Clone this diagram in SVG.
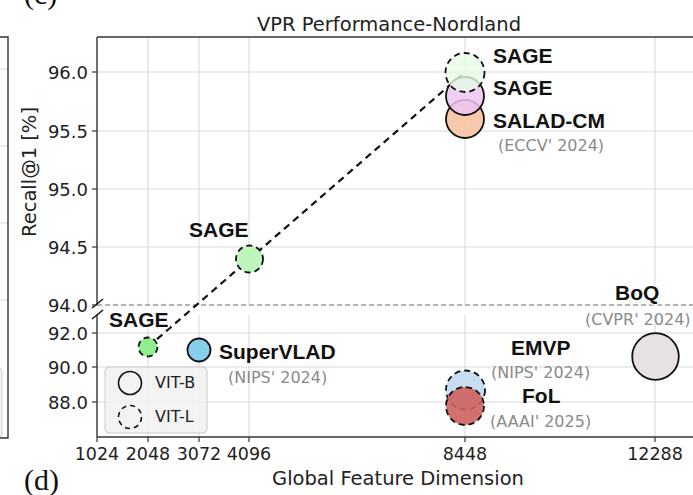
<svg xmlns="http://www.w3.org/2000/svg" width="693" height="495" viewBox="0 0 693 495">
<style>
.grid{stroke:#d9d9d9;stroke-width:1.1;fill:none}
.spine{stroke:#333;stroke-width:1.4;fill:none}
.tick{stroke:#333;stroke-width:1.2}
.tl{font-family:"DejaVu Sans",sans-serif;font-size:18px;fill:#222}
.xl{font-family:"DejaVu Sans",sans-serif;font-size:17.5px;fill:#222;text-anchor:middle}
.ax{font-family:"DejaVu Sans",sans-serif;font-size:19.5px;fill:#222}
.lab{font-family:"Liberation Sans",Arial,sans-serif;font-weight:bold;font-size:21px;fill:#111;stroke:#ffffff;stroke-width:3;stroke-opacity:0.7;paint-order:stroke;stroke-linejoin:round}
.sub{font-family:"DejaVu Sans",sans-serif;font-size:16px;fill:#8a8a8a}
.pt{stroke:#111;stroke-width:1.8}
.dash{stroke-dasharray:6 4}
.panel{font-family:"Liberation Serif",serif;font-size:30px;fill:#111}
</style>
<rect width="693" height="495" fill="#ffffff"/>

<!-- partial left panel -->
<g id="left-panel">
<line class="grid" x1="0" y1="69" x2="8" y2="69"/>
<line class="grid" x1="0" y1="146" x2="8" y2="146"/>
<line class="grid" x1="0" y1="223" x2="8" y2="223"/>
<line class="grid" x1="0" y1="300" x2="8" y2="300"/>
<rect x="-20" y="368" width="22" height="69" rx="3" fill="#f2f2f2" stroke="#cfcfcf" stroke-width="1"/>
<polyline class="spine" points="0,37 8,37 8,438 0,438"/>
</g>
<text class="panel" x="24" y="4">(c)</text>
<text class="panel" x="24" y="490">(d)</text>

<!-- grid -->
<g id="grid">
<line class="grid" x1="97" y1="72" x2="693" y2="72"/>
<line class="grid" x1="97" y1="131" x2="693" y2="131"/>
<line class="grid" x1="97" y1="189" x2="693" y2="189"/>
<line class="grid" x1="97" y1="247" x2="693" y2="247"/>
<line class="grid" x1="97" y1="333" x2="693" y2="333"/>
<line class="grid" x1="97" y1="367" x2="693" y2="367"/>
<line class="grid" x1="97" y1="402" x2="693" y2="402"/>
<line class="grid" x1="148" y1="37" x2="148" y2="305"/>
<line class="grid" x1="199" y1="37" x2="199" y2="305"/>
<line class="grid" x1="249" y1="37" x2="249" y2="305"/>
<line class="grid" x1="465" y1="37" x2="465" y2="305"/>
<line class="grid" x1="655" y1="37" x2="655" y2="305"/>
<line class="grid" x1="148" y1="315" x2="148" y2="437"/>
<line class="grid" x1="199" y1="315" x2="199" y2="437"/>
<line class="grid" x1="249" y1="315" x2="249" y2="437"/>
<line class="grid" x1="465" y1="315" x2="465" y2="437"/>
<line class="grid" x1="655" y1="315" x2="655" y2="437"/>
<line x1="97" y1="305" x2="693" y2="305" stroke="#9a9a9a" stroke-width="1.3" stroke-dasharray="5 3"/>
</g>

<!-- axes -->
<g id="axes">
<line class="spine" x1="97" y1="37" x2="693" y2="37"/>
<line class="spine" x1="97" y1="37" x2="97" y2="305"/>
<line class="spine" x1="97" y1="315" x2="97" y2="437"/>
<line class="spine" x1="97" y1="437" x2="693" y2="437"/>
<line x1="92" y1="308" x2="103" y2="299" stroke="#111" stroke-width="1.5"/>
<line x1="92" y1="319" x2="103" y2="310" stroke="#111" stroke-width="1.5"/>
<g class="tick">
<line x1="92" y1="72" x2="97" y2="72"/>
<line x1="92" y1="131" x2="97" y2="131"/>
<line x1="92" y1="189" x2="97" y2="189"/>
<line x1="92" y1="247" x2="97" y2="247"/>
<line x1="92" y1="305" x2="97" y2="305"/>
<line x1="92" y1="333" x2="97" y2="333"/>
<line x1="92" y1="367" x2="97" y2="367"/>
<line x1="92" y1="402" x2="97" y2="402"/>
<line x1="97" y1="437" x2="97" y2="442"/>
<line x1="148" y1="437" x2="148" y2="442"/>
<line x1="199" y1="437" x2="199" y2="442"/>
<line x1="249" y1="437" x2="249" y2="442"/>
<line x1="465" y1="437" x2="465" y2="442"/>
<line x1="655" y1="437" x2="655" y2="442"/>
</g>
<g class="tl" text-anchor="end">
<text x="88" y="78.5">96.0</text>
<text x="88" y="137.5">95.5</text>
<text x="88" y="195.5">95.0</text>
<text x="88" y="253.5">94.5</text>
<text x="88" y="311.5">94.0</text>
<text x="88" y="339.5">92.0</text>
<text x="88" y="373.5">90.0</text>
<text x="88" y="408.5">88.0</text>
</g>
<text class="xl" x="97" y="460">1024</text>
<text class="xl" x="148" y="460">2048</text>
<text class="xl" x="199" y="460">3072</text>
<text class="xl" x="249" y="460">4096</text>
<text class="xl" x="465" y="460">8448</text>
<text class="xl" x="655" y="460">12288</text>
<text class="ax" x="398" y="485" text-anchor="middle">Global Feature Dimension</text>
<text class="ax" transform="translate(36,172) rotate(-90)" text-anchor="middle">Recall@1 [%]</text>
<text class="ax" x="389" y="31" text-anchor="middle">VPR Performance-Nordland</text>
</g>

<!-- connectors -->
<g id="connectors">
<polyline points="148,347 249.5,259 465,72" fill="none" stroke="#111" stroke-width="2.2" stroke-dasharray="7 5"/>
</g>

<!-- nodes -->
<g id="sage-2048">
<circle class="pt dash" cx="148" cy="347" r="9.5" fill="#90ee90" stroke-dasharray="5 3"/>
<text class="lab" x="109" y="327">SAGE</text>
</g>
<g id="supervlad">
<circle class="pt" cx="199" cy="350" r="11.5" fill="#87ceeb"/>
<text class="lab" x="219" y="359">SuperVLAD</text>
<text class="sub" x="228" y="383">(NIPS' 2024)</text>
</g>
<g id="sage-4096">
<circle class="pt dash" cx="249.5" cy="259" r="13.5" fill="#bdf5bd"/>
<text class="lab" x="189" y="237">SAGE</text>
</g>
<g id="salad-cm">
<circle class="pt" cx="465" cy="119" r="19" fill="#f7c3a4" fill-opacity="0.9"/>
<text class="lab" x="493" y="128">SALAD-CM</text>
<text class="sub" x="498" y="151">(ECCV' 2024)</text>
</g>
<g id="sage-vitb">
<circle class="pt" cx="465" cy="96" r="19" fill="#eec6f2" fill-opacity="0.85"/>
<text class="lab" x="493" y="95">SAGE</text>
</g>
<g id="sage-vitl">
<circle class="pt dash" cx="465" cy="72.5" r="19.5" fill="#e6fbe6" fill-opacity="0.8"/>
<text class="lab" x="493" y="63">SAGE</text>
</g>
<g id="emvp">
<circle class="pt dash" cx="465.5" cy="390" r="19.5" fill="#c6def0"/>
<text class="lab" x="511" y="355">EMVP</text>
<text class="sub" x="491" y="378">(NIPS' 2024)</text>
</g>
<g id="fol">
<circle class="pt dash" cx="465" cy="406" r="19" fill="#cd625e" fill-opacity="0.9"/>
<text class="lab" x="522" y="403">FoL</text>
<text class="sub" x="490" y="427">(AAAI' 2025)</text>
</g>
<g id="boq">
<circle class="pt" cx="655.5" cy="356.5" r="23.3" fill="#e6e2e4"/>
<text class="lab" x="615" y="300">BoQ</text>
<text class="sub" x="585" y="325">(CVPR' 2024)</text>
</g>

<!-- legend -->
<g id="legend">
<rect x="105" y="367" width="102" height="66" rx="4" fill="#f2f2f2" fill-opacity="0.9" stroke="#cccccc" stroke-width="1"/>
<circle cx="130" cy="383" r="11.5" fill="none" stroke="#111" stroke-width="1.6"/>
<circle cx="130" cy="417" r="11.5" fill="none" stroke="#111" stroke-width="1.6" stroke-dasharray="5 4"/>
<text x="155" y="388" font-family="DejaVu Sans, sans-serif" font-size="16" fill="#222">VIT-B</text>
<text x="155" y="422" font-family="DejaVu Sans, sans-serif" font-size="16" fill="#222">VIT-L</text>
</g>
</svg>
